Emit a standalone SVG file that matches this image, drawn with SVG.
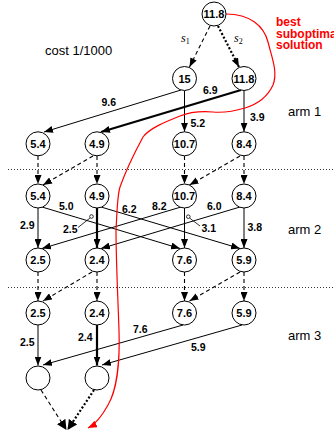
<svg xmlns="http://www.w3.org/2000/svg" width="334" height="438" viewBox="0 0 334 438">
<style>
.n circle{fill:#fff;stroke:#000;stroke-width:1}
.n text{font-family:"Liberation Sans",Arial,sans-serif;font-weight:bold;font-size:11px;text-anchor:middle;fill:#000}
.e{fill:none;stroke:#000;stroke-width:1;marker-end:url(#arr)}
.thick{stroke-width:2.2}
.dash{stroke-dasharray:4,3;stroke-width:1.1}
.dot{stroke-dasharray:2,2;stroke-width:2.2}
.lbl{font-family:"Liberation Sans",Arial,sans-serif;font-weight:bold;font-size:10.5px;fill:#000}
.plain{font-family:"Liberation Sans",Arial,sans-serif;font-size:13px;fill:#000}
.sep{stroke:#000;stroke-width:0.8;stroke-dasharray:1,2}
.red{font-family:"Liberation Sans",Arial,sans-serif;font-weight:bold;font-size:12px;fill:#ff0000}
.math{font-family:"Liberation Serif","Times New Roman",serif;font-style:italic;font-size:12px}
.math tspan{font-style:normal;font-size:8px}
</style>
<defs>
<marker id="arr" markerUnits="userSpaceOnUse" markerWidth="9" markerHeight="7" refX="9" refY="3.5" orient="auto">
<path d="M0,0 L9,3.5 L0,7 z" fill="#000" stroke="none"/>
</marker>
<marker id="arrbig" markerUnits="userSpaceOnUse" markerWidth="11" markerHeight="10" refX="10" refY="5" orient="auto">
<path d="M0,0 L10,5 L0,10 z" fill="#000" stroke="none"/>
</marker>
<marker id="arrred" markerUnits="userSpaceOnUse" markerWidth="9" markerHeight="7" refX="9" refY="3.5" orient="auto">
<path d="M0,0 L9,3.5 L0,7 z" fill="#ff0000" stroke="none"/>
</marker>
</defs>

<g id="separators">
<line class="sep" x1="8" y1="169.5" x2="334" y2="169.5"/>
<line class="sep" x1="8" y1="287.5" x2="334" y2="287.5"/>
</g>

<g id="labels">
<text class="plain" x="45" y="55">cost 1/1000</text>
<text class="plain" x="288" y="116" font-size="12.5">arm 1</text>
<text class="plain" x="288" y="234" font-size="12.5">arm 2</text>
<text class="plain" x="288" y="340" font-size="12.5">arm 3</text>
<text class="red" x="276" y="26">best</text>
<text class="red" x="276" y="37.5">suboptimal</text>
<text class="red" x="276" y="48.5">solution</text>
<text class="math" x="181" y="42">s<tspan dy="2">1</tspan></text>
<text class="math" x="234" y="42">s<tspan dy="2">2</tspan></text>
</g>

<g id="connectors">
<!-- top -->
<line class="e dash" x1="210" y1="26" x2="189.5" y2="67"/>
<line class="e dot" x1="218" y1="26" x2="239" y2="67"/>
<!-- arm 1 -->
<line class="e" x1="181" y1="90" x2="44" y2="132"/>
<line class="e thick" x1="241" y1="90" x2="101" y2="132"/>
<line class="e" x1="184.5" y1="90.5" x2="184.5" y2="131.8"/>
<line class="e" x1="244" y1="90.5" x2="244" y2="131.8"/>
<!-- row1 -> row2 -->
<line class="e dash" x1="38" y1="156" x2="38" y2="184"/>
<line class="e dash" x1="97" y1="156" x2="97" y2="184"/>
<line class="e dash" x1="93" y1="156" x2="43" y2="185"/>
<line class="e dash" x1="184.5" y1="156" x2="184.5" y2="184"/>
<line class="e dash" x1="244" y1="156" x2="244" y2="184"/>
<line class="e dash" x1="240" y1="156" x2="189.5" y2="185"/>
<!-- arm 2 -->
<line class="e" x1="38" y1="208" x2="38" y2="248"/>
<line class="e" x1="42" y1="207" x2="180" y2="248.5"/>
<line class="e thick" x1="97" y1="208" x2="97" y2="248"/>
<line class="e" x1="101" y1="207" x2="240" y2="248.5"/>
<line class="e" x1="181" y1="207" x2="42" y2="248.5"/>
<line class="e" x1="184.5" y1="208" x2="184.5" y2="248"/>
<line class="e" x1="240" y1="207" x2="101" y2="248.5"/>
<line class="e" x1="244" y1="208" x2="244" y2="248"/>
<!-- leaders -->
<line stroke="#000" stroke-width="0.8" x1="78" y1="227.5" x2="90" y2="218"/>
<circle cx="91.5" cy="216.5" r="1.8" fill="#fff" stroke="#000" stroke-width="0.8"/>
<line stroke="#000" stroke-width="0.8" x1="200" y1="226" x2="189.5" y2="218"/>
<circle cx="188.3" cy="216.7" r="1.8" fill="#fff" stroke="#000" stroke-width="0.8"/>
<!-- row3 -> row4 -->
<line class="e dash" x1="38" y1="272" x2="38" y2="301"/>
<line class="e dash" x1="97" y1="272" x2="97" y2="301"/>
<line class="e dash" x1="92" y1="272" x2="43" y2="301"/>
<line class="e dash" x1="184.5" y1="272" x2="184.5" y2="301"/>
<line class="e dash" x1="244" y1="272" x2="244" y2="301"/>
<line class="e dash" x1="240" y1="272" x2="189.5" y2="301"/>
<!-- arm 3 -->
<line class="e" x1="38" y1="325" x2="38" y2="365.5"/>
<line class="e thick" x1="97" y1="325" x2="97" y2="365.5"/>
<line class="e" x1="183" y1="325" x2="43" y2="365"/>
<line class="e" x1="242" y1="325" x2="102" y2="365"/>
<!-- final -->
<line class="e dash" x1="41" y1="390" x2="66.5" y2="430" style="marker-end:url(#arrbig)"/>
<line class="e dot" x1="94" y1="390" x2="67.5" y2="430" style="marker-end:url(#arrbig)"/>
<!-- red -->
<path d="M226,14 C250,14 264,26 268,42 C272,58 278,72 273,85 C268,96 258,104 245,108 C235,111 225,113 213,112 C200,111 190,112 180,116 C165,122 150,128 143,137 C136,150 126,170 120,187 C117,197 117,215 116,230 C116,260 118,300 119,330 C120,360 117,390 108,405 C102,416 96,424 88,428" fill="none" stroke="#ff0000" stroke-width="1.2" marker-end="url(#arrred)"/>
<!-- edge labels -->
<text class="lbl" x="101.5" y="106">9.6</text>
<text class="lbl" x="203" y="94">6.9</text>
<text class="lbl" x="190.5" y="127">5.2</text>
<text class="lbl" x="250" y="121">3.9</text>
<text class="lbl" x="20" y="228.5">2.9</text>
<text class="lbl" x="59" y="210">5.0</text>
<text class="lbl" x="63" y="233">2.5</text>
<text class="lbl" x="122" y="212.5">6.2</text>
<text class="lbl" x="152" y="210">8.2</text>
<text class="lbl" x="207" y="210">6.0</text>
<text class="lbl" x="201.5" y="232">3.1</text>
<text class="lbl" x="247.5" y="231">3.8</text>
<text class="lbl" x="20" y="345.5">2.5</text>
<text class="lbl" x="78" y="341">2.4</text>
<text class="lbl" x="133" y="333">7.6</text>
<text class="lbl" x="191" y="351">5.9</text>
</g>

<g id="n_root" class="n"><circle cx="214" cy="14" r="12"/><text x="214" y="18">11.8</text></g>
<g id="n_s1" class="n"><circle cx="184.5" cy="78.5" r="12"/><text x="184.5" y="82.5">15</text></g>
<g id="n_s2" class="n"><circle cx="244" cy="78.5" r="12"/><text x="244" y="82.5">11.8</text></g>

<g id="n_a1_1" class="n"><circle cx="38" cy="143.8" r="12"/><text x="38" y="147.8">5.4</text></g>
<g id="n_a1_2" class="n"><circle cx="97" cy="143.8" r="12"/><text x="97" y="147.8">4.9</text></g>
<g id="n_a1_3" class="n"><circle cx="184.5" cy="143.8" r="12"/><text x="184.5" y="147.8">10.7</text></g>
<g id="n_a1_4" class="n"><circle cx="244" cy="143.8" r="12"/><text x="244" y="147.8">8.4</text></g>

<g id="n_b1_1" class="n"><circle cx="38" cy="196" r="12"/><text x="38" y="200">5.4</text></g>
<g id="n_b1_2" class="n"><circle cx="97" cy="196" r="12"/><text x="97" y="200">4.9</text></g>
<g id="n_b1_3" class="n"><circle cx="184.5" cy="196" r="12"/><text x="184.5" y="200">10.7</text></g>
<g id="n_b1_4" class="n"><circle cx="244" cy="196" r="12"/><text x="244" y="200">8.4</text></g>

<g id="n_a2_1" class="n"><circle cx="38" cy="260" r="12"/><text x="38" y="264">2.5</text></g>
<g id="n_a2_2" class="n"><circle cx="97" cy="260" r="12"/><text x="97" y="264">2.4</text></g>
<g id="n_a2_3" class="n"><circle cx="184.5" cy="260" r="12"/><text x="184.5" y="264">7.6</text></g>
<g id="n_a2_4" class="n"><circle cx="244" cy="260" r="12"/><text x="244" y="264">5.9</text></g>

<g id="n_b2_1" class="n"><circle cx="38" cy="313" r="12"/><text x="38" y="317">2.5</text></g>
<g id="n_b2_2" class="n"><circle cx="97" cy="313" r="12"/><text x="97" y="317">2.4</text></g>
<g id="n_b2_3" class="n"><circle cx="184.5" cy="313" r="12"/><text x="184.5" y="317">7.6</text></g>
<g id="n_b2_4" class="n"><circle cx="244" cy="313" r="12"/><text x="244" y="317">5.9</text></g>

<g id="n_a3_1" class="n"><circle cx="38" cy="378" r="12"/></g>
<g id="n_a3_2" class="n"><circle cx="97" cy="378" r="12"/></g>
</svg>
